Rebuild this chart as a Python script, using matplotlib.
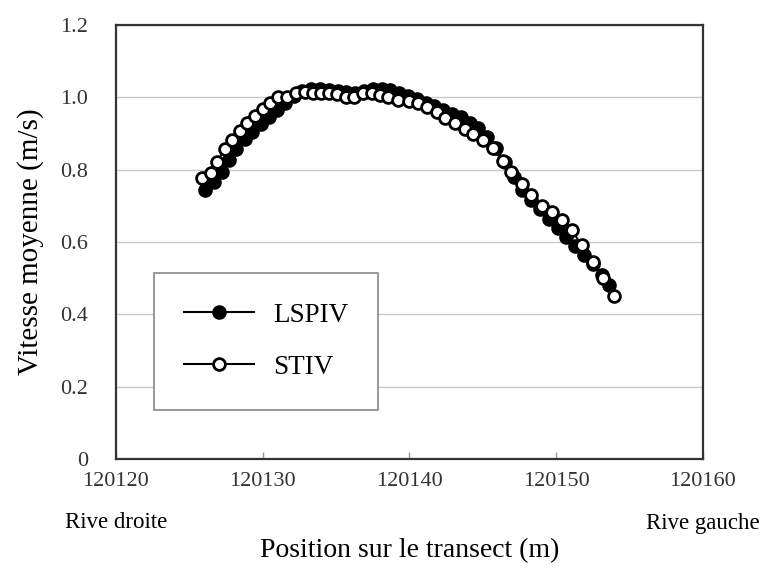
import matplotlib.pyplot as plt
from matplotlib.transforms import blended_transform_factory

plt.rcParams['font.family'] = ['Liberation Serif', 'DejaVu Serif']

# STIV (open circles)
stiv_x = [120125.84, 120126.45, 120126.86, 120127.43, 120127.88, 120128.45, 120128.91,
          120129.47, 120130.04, 120130.49, 120131.06, 120131.67, 120132.27, 120132.88,
          120133.40, 120133.95, 120134.53, 120135.08, 120135.67, 120136.22, 120136.81,
          120137.42, 120137.99, 120138.56, 120139.24, 120139.99, 120140.60, 120141.21,
          120141.85, 120142.42, 120143.10, 120143.78, 120144.35, 120145.03, 120145.67,
          120146.35, 120146.90, 120147.65, 120148.26, 120149.01, 120149.69, 120150.37,
          120151.05, 120151.73, 120152.48, 120153.21, 120153.94]
stiv_v = [0.776, 0.792, 0.822, 0.856, 0.882, 0.907, 0.928, 0.948, 0.967, 0.985,
          1.002, 1.002, 1.011, 1.015, 1.011, 1.011, 1.011, 1.008, 1.002, 1.000,
          1.011, 1.011, 1.006, 1.002, 0.994, 0.991, 0.985, 0.974, 0.960, 0.942,
          0.928, 0.912, 0.900, 0.882, 0.859, 0.825, 0.794, 0.760, 0.730, 0.699,
          0.684, 0.661, 0.633, 0.592, 0.546, 0.500, 0.451]

# LSPIV (filled circles)
lspiv_x = [120126.1, 120126.7, 120127.2, 120127.7, 120128.2, 120128.8, 120129.3, 120129.9,
           120130.4, 120131.0, 120131.5, 120132.1, 120132.7, 120133.3, 120133.9, 120134.5,
           120135.1, 120135.7, 120136.3, 120136.9, 120137.5, 120138.1, 120138.7, 120139.3,
           120139.9, 120140.5, 120141.1, 120141.7, 120142.3, 120142.9, 120143.5, 120144.1,
           120144.7, 120145.3, 120145.9, 120146.5, 120147.1, 120147.7, 120148.3, 120148.9,
           120149.5, 120150.1, 120150.7, 120151.3, 120151.9, 120152.5, 120153.1, 120153.6]
lspiv_v = [0.745, 0.765, 0.795, 0.828, 0.858, 0.885, 0.905, 0.925, 0.945, 0.965,
           0.985, 1.005, 1.018, 1.022, 1.022, 1.020, 1.018, 1.015, 1.012, 1.018,
           1.022, 1.022, 1.020, 1.012, 1.005, 0.995, 0.985, 0.975, 0.965, 0.955,
           0.945, 0.930, 0.915, 0.890, 0.860, 0.820, 0.780, 0.745, 0.715, 0.690,
           0.665, 0.640, 0.615, 0.590, 0.565, 0.540, 0.510, 0.480]

x_ticks = [120120, 120130, 120140, 120150, 120160]
x_labels = ['120120', '120130', '120140', '120150', '120160']
y_ticks = [0, 0.2, 0.4, 0.6, 0.8, 1.0, 1.2]
y_labels = ['0', '0.2', '0.4', '0.6', '0.8', '1.0', '1.2']

fig = plt.figure(figsize=(7.64, 5.68), dpi=100)
ax = fig.add_axes([0.1518, 0.1919, 0.7683, 0.764])

ax.plot(lspiv_x, lspiv_v, color='black', lw=1.5, marker='o', ms=8.5,
        mfc='black', mec='black', mew=2, label='LSPIV', zorder=3)
ax.plot(stiv_x, stiv_v, color='black', lw=1.5, marker='o', ms=8.5,
        mfc='white', mec='black', mew=2, label='STIV', zorder=4)

ax.set_xlim(120120, 120160)
ax.set_ylim(0, 1.2)
ax.set_xticks(x_ticks)
ax.set_xticklabels(x_labels)
ax.set_yticks(y_ticks)
ax.set_yticklabels(y_labels)
ax.yaxis.grid(True, color='#c8c8c8', lw=1)
ax.set_axisbelow(True)
ax.tick_params(axis='x', direction='in', length=5, width=1, color='#999999',
               labelsize=16, pad=9, labelcolor='#333333')
ax.tick_params(axis='y', length=0, labelsize=16, pad=20, labelcolor='#333333')
for s in ax.spines.values():
    s.set_color('#333333')
    s.set_linewidth(1.6)

ax.set_ylabel('Vitesse moyenne (m/s)', fontsize=21, labelpad=12)
ax.set_xlabel('Position sur le transect (m)', fontsize=20, labelpad=34)

trans = blended_transform_factory(ax.transData, fig.transFigure)
ax.text(120120, 1 - 523 / 568, 'Rive droite', transform=trans, fontsize=16.5,
        ha='center', va='center')
ax.text(120160, 1 - 523 / 568, 'Rive gauche', transform=trans, fontsize=16.5,
        ha='center', va='center')

leg = ax.legend(loc='upper left', bbox_to_anchor=(0.0647, 0.429), fontsize=19.5,
                handlelength=2.6, handletextpad=0.7, labelspacing=1.0,
                borderpad=1.1, borderaxespad=0, fancybox=False, framealpha=1,
                edgecolor='#888888')
leg.get_frame().set_linewidth(1.2)

fig.savefig('out.png', dpi=100)
